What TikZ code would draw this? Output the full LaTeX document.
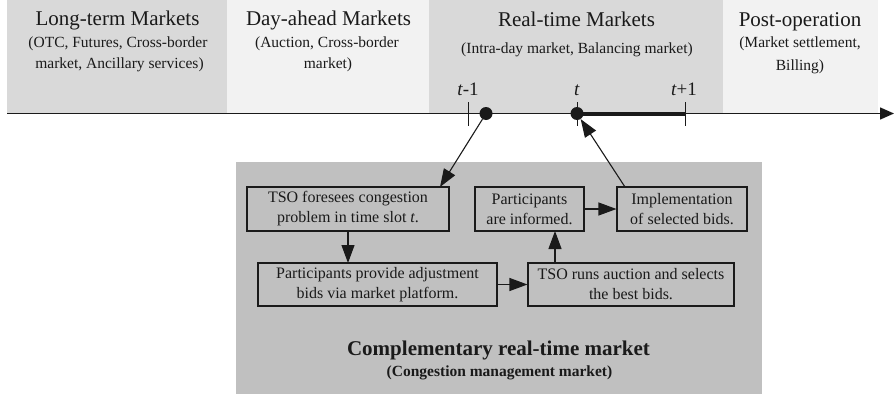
\documentclass[tikz,border=0pt]{standalone}
\usepackage{fontspec}
\setmainfont{Liberation Serif}
\usetikzlibrary{arrows.meta}
\definecolor{bgdark}{HTML}{D9D9D9}
\definecolor{bglight}{HTML}{F2F2F2}
\definecolor{panel}{HTML}{C0C0C0}
\definecolor{ink}{HTML}{1A1A1A}
\begin{document}
\begin{tikzpicture}[x=1pt,y=-1pt,
  title/.style={anchor=base,inner sep=0pt,text=ink,font=\fontsize{21}{25}\selectfont},
  sub/.style={anchor=base,inner sep=0pt,text=ink,font=\fontsize{15.5}{20}\selectfont},
  tlabel/.style={anchor=base,inner sep=0pt,text=ink,font=\fontsize{19}{22}\selectfont},
  stepbox/.style={draw=ink,line width=1.1pt,fill=panel,align=center,inner sep=0pt,text=ink,font=\fontsize{16}{20}\selectfont},
  arr/.style={-{Triangle[length=18pt,width=13pt]},line width=1.1pt,draw=ink},
  dot/.style={circle,fill=ink,inner sep=0pt,minimum size=13pt},
  tick/.style={draw=ink,line width=1pt}
]
\useasboundingbox (0,0) rectangle (894,399);
% header bands
\fill[bgdark] (7,0) rectangle (227,113.5);
\fill[bglight] (227,0) rectangle (429,113.5);
\fill[bgdark] (429,0) rectangle (723,113.5);
\fill[bglight] (723,0) rectangle (878,113.5);
% lower panel
\fill[panel] (236,162) rectangle (762,394);

% header texts
\node[title] (lt) at (117.5,25) {Long-term Markets};
\node[sub] (lt1) at (118,47) {(OTC, Futures, Cross-border};
\node[sub] (lt2) at (119.5,68) {market, Ancillary services)};
\node[title] (da) at (328.5,25) {Day-ahead Markets};
\node[sub] (da1) at (327,47) {(Auction, Cross-border};
\node[sub] (da2) at (328,68) {market)};
\node[title] (rt) at (576.5,26) {Real-time Markets};
\node[sub] (rt1) at (577,53) {(Intra-day market, Balancing market)};
\node[title] (po) at (800,26) {Post-operation};
\node[sub] (po1) at (800,47) {(Market settlement,};
\node[sub] (po2) at (800,70) {Billing)};

% time axis
\coordinate (ax0) at (7,113.5);
\coordinate (ax1) at (894,113.5);
\draw[ink,line width=1.5pt,-{Triangle[length=14pt,width=12pt]}] (ax0) -- (ax1);
\coordinate (tm1a) at (468,102); \coordinate (tm1b) at (468,126);
\coordinate (t0a) at (577,102);  \coordinate (t0b) at (577,126);
\coordinate (tp1a) at (685,102); \coordinate (tp1b) at (685,126);
\draw[tick] (tm1a) -- (tm1b);
\draw[tick] (t0a) -- (t0b);
\draw[tick] (tp1a) -- (tp1b);
\coordinate (th0) at (577,113.5); \coordinate (th1) at (685,113.5);
\draw[ink,line width=4pt] (th0) -- (th1);
\node[dot] (d1) at (486,113.5) {};
\node[dot] (d2) at (577,113.5) {};
\node[tlabel] (lm1) at (468,95) {\textit{t}-1};
\node[tlabel] (l0) at (577,95) {\textit{t}};
\node[tlabel] (lp1) at (684,95) {\textit{t}+1};

% process boxes
\node[stepbox,minimum width=202pt,minimum height=44pt] (A) at (348,209) {TSO foresees congestion\\problem in time slot \textit{t}.};
\node[stepbox,minimum width=239pt,minimum height=43pt] (B) at (377.5,284.5) {Participants provide adjustment\\bids via market platform.};
\node[stepbox,minimum width=206pt,minimum height=43pt] (C) at (631,284.5) {TSO runs auction and selects\\the best bids.};
\node[stepbox,minimum width=109pt,minimum height=44pt] (D) at (529.5,209) {Participants\\are informed.};
\node[stepbox,minimum width=130pt,minimum height=44pt] (E) at (682,209) {Implementation\\of selected bids.};

% panel title
\node[anchor=base,inner sep=0pt,text=ink,font=\fontsize{21}{25}\selectfont\bfseries] (ct) at (498.5,355) {Complementary real-time market};
\node[anchor=base,inner sep=0pt,text=ink,font=\fontsize{15.5}{20}\selectfont\bfseries] (cs) at (499.5,376) {(Congestion management market)};

% connectors
\coordinate (aIn) at (440,187);
\draw[arr] (d1) -- (aIn);
\coordinate (aOut) at (348,231);
\coordinate (bIn) at (348,263);
\draw[arr] (aOut) -- (bIn);
\draw[arr] (B) -- (C);
\coordinate (cOut) at (555,263);
\coordinate (dIn) at (555,231);
\draw[arr] (cOut) -- (dIn);
\draw[arr] (D) -- (E);
\coordinate (eOut) at (625,187);
\draw[arr] (eOut) -- (d2);
\end{tikzpicture}
\end{document}
